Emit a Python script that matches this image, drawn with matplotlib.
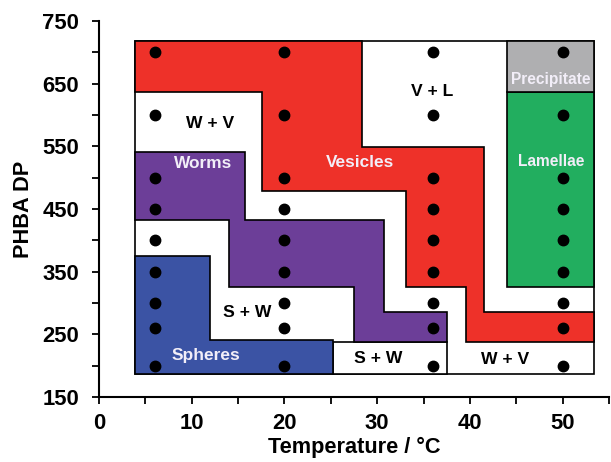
import matplotlib
matplotlib.use("Agg")
import matplotlib.pyplot as plt
from matplotlib.patches import Polygon
from matplotlib.ticker import FixedLocator

plt.rcParams['font.family'] = ['Liberation Sans', 'DejaVu Sans']
plt.rcParams['font.weight'] = 'bold'

# ---- data ----
temperatures = [6, 20, 36, 50]
dp_values = [200, 260, 300, 350, 400, 450, 500, 600, 700]

# phase-region boundaries (temperature, DP)
outer_x = [3.85, 53.4, 53.4, 3.85]
outer_y = [187, 187, 718, 718]

vesicles_x = [3.85, 28.4, 28.4, 41.5, 41.5, 53.4, 53.4, 39.6, 39.6, 33.1, 33.1, 17.6, 17.6, 3.85]
vesicles_y = [718, 718, 548.5, 548.5, 285, 285, 237, 237, 326, 326, 478, 478, 636, 636]

worms_x = [3.85, 15.8, 15.8, 30.7, 30.7, 37.5, 37.5, 27.5, 27.5, 14.0, 14.0, 3.85]
worms_y = [541, 541, 432.6, 432.6, 285, 285, 238.5, 238.5, 326, 326, 432.6, 432.6]

spheres_x = [3.85, 12.0, 12.0, 25.2, 25.2, 3.85]
spheres_y = [375, 375, 241, 241, 187, 187]

lamellae_x = [44.0, 53.4, 53.4, 44.0]
lamellae_y = [326, 326, 636, 636]

precip_x = [44.0, 53.4, 53.4, 44.0]
precip_y = [636, 636, 718, 718]

sw_low_x = [25.2, 37.5, 37.5, 25.2]
sw_low_y = [187, 187, 238.5, 238.5]

labels = ["Worms", "Vesicles", "V + L", "W + V", "Precipitate", "Lamellae",
          "S + W", "Spheres", "S + W", "W + V"]
label_x = [11.2, 28.2, 35.9, 12.0, 48.7, 48.8, 16.0, 11.55, 30.1, 43.8]
label_y = [523, 524, 638, 587, 657, 525, 285, 217, 212, 210]
label_white = [True, True, False, False, True, True, False, True, False, False]
label_size = [12.4, 12.4, 12.6, 12.6, 11.2, 11.2, 12.6, 12.5, 12.6, 12.6]

# ---- figure ----
fig = plt.figure(figsize=(6.11, 4.62), dpi=100)
ax = fig.add_axes([0.162, 0.1407, 0.8347, 0.8139])

ec = 'black'
lw = 1.2

def region(xs, ys, color, z):
    ax.add_patch(Polygon(list(zip(xs, ys)), closed=True, facecolor=color,
                         edgecolor=ec, linewidth=lw, zorder=z))

region(outer_x, outer_y, 'white', 1)
region(sw_low_x, sw_low_y, 'white', 2)
region(vesicles_x, vesicles_y, '#EE3129', 3)
region(worms_x, worms_y, '#6C3E98', 3)
region(spheres_x, spheres_y, '#3B53A4', 3)
region(lamellae_x, lamellae_y, '#22AE5F', 3)
region(precip_x, precip_y, '#AFAFB1', 3)

for t in temperatures:
    ax.plot([t] * len(dp_values), dp_values, 'o', color='black', ms=7.5,
            zorder=5, clip_on=False)

for txt, x, y, wh, fs in zip(labels, label_x, label_y, label_white, label_size):
    ax.text(x, y, txt, ha='center', va='center', fontsize=fs,
            fontweight='bold', color='#F2EEF8' if wh else 'black', zorder=6)

ax.set_xlim(0, 55)
ax.set_ylim(150, 750)
ax.xaxis.set_major_locator(FixedLocator([0, 10, 20, 30, 40, 50]))
ax.xaxis.set_minor_locator(FixedLocator([5, 15, 25, 35, 45, 55]))
ax.yaxis.set_major_locator(FixedLocator([150, 250, 350, 450, 550, 650, 750]))
ax.yaxis.set_minor_locator(FixedLocator([200, 300, 400, 500, 600, 700]))

for s in ['top', 'right']:
    ax.spines[s].set_visible(False)
for s in ['left', 'bottom']:
    ax.spines[s].set_linewidth(1.5)

ax.tick_params(which='both', direction='out', length=5.3, width=1.3,
               labelsize=15.8)
ax.tick_params(axis='x', which='both', pad=6)
ax.tick_params(axis='y', which='both', pad=9)
for lab in ax.get_xticklabels() + ax.get_yticklabels():
    lab.set_fontweight('bold')

ax.set_xlabel('Temperature / °C', fontsize=15.7, fontweight='bold', labelpad=2)
ax.set_ylabel('PHBA DP', fontsize=15.7, fontweight='bold', labelpad=6)

fig.savefig('out.png', dpi=100)
